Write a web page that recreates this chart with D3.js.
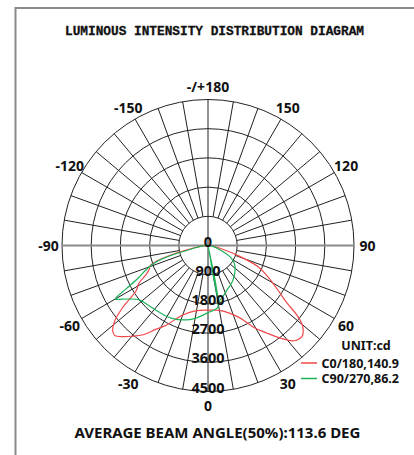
<!DOCTYPE html>
<html>
<head>
<meta charset="utf-8">
<script src="https://cdn.jsdelivr.net/npm/d3@7"></script>
<style>
html,body{margin:0;padding:0;background:#fff;}
svg{display:block;}
</style>
</head>
<body>
<svg id="chart" width="414" height="455"></svg>
<script>
// ---- data ----
const ringValues = [900, 1800, 2700, 3600, 4500];
const ringLabels = ["0", "900", "1800", "2700", "3600", "4500"];
const angleTicks = [0, 30, 60, 90, 120, 150, 180, -150, -120, -90, -60, -30];
const angleTickLabels = ["0", "30", "60", "90", "120", "150", "-/+180", "-150", "-120", "-90", "-60", "-30"];

const redAngles = [-90,-85,-80,-76,-73,-71,-68,-65,-61,-58,-54,-51,-48,-46,-43,-40,-36,-32,-27.5,-20,-10,0,10,18,24,29,34,38,42,46,48,50,52,54,58,63,67,71,77,85,90];
const redValues = [0,150,450,1140,1650,1880,1950,2100,2450,2600,3250,3700,3950,3990,3840,3650,3400,3050,2760,2280,2040,1990,2030,2200,2450,2870,3260,3620,3950,4030,3950,3790,3470,3000,2500,2030,1680,1050,380,100,0];

const greenAngles = [-90,-85,-80,-77,-75,-73,-71,-68,-65,-62,-60,-59,-56,-52,-45,-37,-27,-17,-10,0,5,9,10,11,12.5,18,25,32,38,45,52,58,63,70,80,90];
const greenValues = [0,150,400,620,1160,1600,1840,2100,2370,2880,3300,3220,2950,2710,2600,2550,2510,2400,2280,2070,2000,1930,0,1800,1720,1600,1460,1370,1280,1170,1060,920,760,400,150,0];

const seriesNames = ["C0/180,140.9", "C90/270,86.2"];
const seriesColors = ["#f0484a", "#1db35a"];
const titleText = "LUMINOUS INTENSITY DISTRIBUTION DIAGRAM";
const unitText = "UNIT:cd";
const footerText = "AVERAGE BEAM ANGLE(50%):113.6 DEG";

// ---- layout ----
const svg = d3.select("#chart");
const cx = 208, cy = 245.5, R = 146;
const r = d3.scaleLinear().domain([0, 4500]).range([0, R]);
const toRad = d => (180 - d) * Math.PI / 180; // 0 at bottom, positive to the right
const px = (deg, rad) => cx + rad * Math.sin(toRad(deg));
const py = (deg, rad) => cy - rad * Math.cos(toRad(deg));

// frame
svg.append("path")
  .attr("d", `M15.5,455 L15.5,8 L414,8`)
  .attr("fill", "none").attr("stroke", "#8a8a8a").attr("stroke-width", 2);

// title
svg.append("text")
  .attr("x", 214.5).attr("y", 35)
  .attr("text-anchor", "middle")
  .attr("textLength", 299).attr("lengthAdjust", "spacingAndGlyphs")
  .style("font-family", "'Liberation Mono', monospace")
  .style("font-weight", "bold").style("font-size", "12.5px")
  .attr("fill", "#111").attr("stroke", "#111").attr("stroke-width", 0.3)
  .text(titleText);

const g = svg.append("g");

// rings
g.selectAll("circle.ring").data(ringValues).join("circle")
  .attr("class", "ring")
  .attr("cx", cx).attr("cy", cy).attr("r", d => r(d))
  .attr("fill", "none").attr("stroke", "#222").attr("stroke-width", 1);

// spokes every 10 degrees, from first ring outwards
const spokeAngles = d3.range(-170, 181, 10).filter(a => a !== 0 && a !== 180 && a !== 90 && a !== -90);
g.selectAll("line.spoke").data(spokeAngles).join("line")
  .attr("x1", a => px(a, r(900))).attr("y1", a => py(a, r(900)))
  .attr("x2", a => px(a, r(4500))).attr("y2", a => py(a, r(4500)))
  .attr("stroke", "#222").attr("stroke-width", 1);

// vertical diameter
g.append("line")
  .attr("x1", px(180, R)).attr("y1", py(180, R))
  .attr("x2", px(0, R)).attr("y2", py(0, R))
  .attr("stroke", "#222").attr("stroke-width", 1);
// horizontal diameter (grey)
g.append("line")
  .attr("x1", px(-90, R)).attr("y1", py(-90, R))
  .attr("x2", px(90, R)).attr("y2", py(90, R))
  .attr("stroke", "#8a8a8a").attr("stroke-width", 2);

// curves
const line = d3.lineRadial()
  .angle(d => toRad(d[0]))
  .radius(d => r(d[1]))
  .curve(d3.curveCatmullRom.alpha(0.5));

const series = [
  d3.zip(redAngles, redValues),
  d3.zip(greenAngles, greenValues)
];
g.selectAll("path.curve").data(series).join("path")
  .attr("class", "curve")
  .attr("transform", `translate(${cx},${cy})`)
  .attr("d", line)
  .attr("fill", "none")
  .attr("stroke", (d, i) => seriesColors[i])
  .attr("stroke-width", 1.2);

// radial value labels
const ringLabelVals = [0].concat(ringValues);
g.selectAll("text.rl").data(ringLabelVals).join("text")
  .attr("x", cx).attr("y", (d) => cy + r(d) + 1)
  .attr("text-anchor", "middle")
  .style("font-family", "'Noto Sans', sans-serif")
  .style("font-weight", "bold").style("font-size", "14.5px")
  .attr("fill", "#111")
  .text((d, i) => ringLabels[i]);

// angle labels
const LR = 159.5;
g.selectAll("text.al").data(angleTicks).join("text")
  .attr("x", a => px(a, LR)).attr("y", a => py(a, LR))
  .attr("text-anchor", "middle")
  .attr("dominant-baseline", "central")
  .style("font-family", "'Noto Sans', sans-serif")
  .style("font-weight", "bold").style("font-size", "14px")
  .attr("fill", "#111")
  .text((d, i) => angleTickLabels[i]);

// legend
svg.append("text")
  .attr("x", 366).attr("y", 349.5).attr("text-anchor", "middle")
  .style("font-family", "'Noto Sans', sans-serif")
  .style("font-weight", "bold").style("font-size", "12.5px")
  .attr("fill", "#111").text(unitText);

const leg = svg.selectAll("g.leg").data(seriesNames).join("g")
  .attr("transform", (d, i) => `translate(0,${363 + i * 15.5})`);
leg.append("line")
  .attr("x1", 301).attr("x2", 317).attr("y1", 0).attr("y2", 0)
  .attr("stroke", (d, i) => seriesColors[i]).attr("stroke-width", 1.5);
leg.append("text")
  .attr("x", 321.5).attr("y", 4.5)
  .style("font-family", "'Noto Sans', sans-serif")
  .style("font-weight", "bold").style("font-size", "12.5px")
  .attr("fill", "#111").text(d => d);

// footer
svg.append("text")
  .attr("x", 217.5).attr("y", 437.5).attr("text-anchor", "middle")
  .style("font-family", "'Noto Sans', sans-serif")
  .style("font-weight", "bold").style("font-size", "15px")
  .attr("fill", "#111").text(footerText);
</script>
</body>
</html>
